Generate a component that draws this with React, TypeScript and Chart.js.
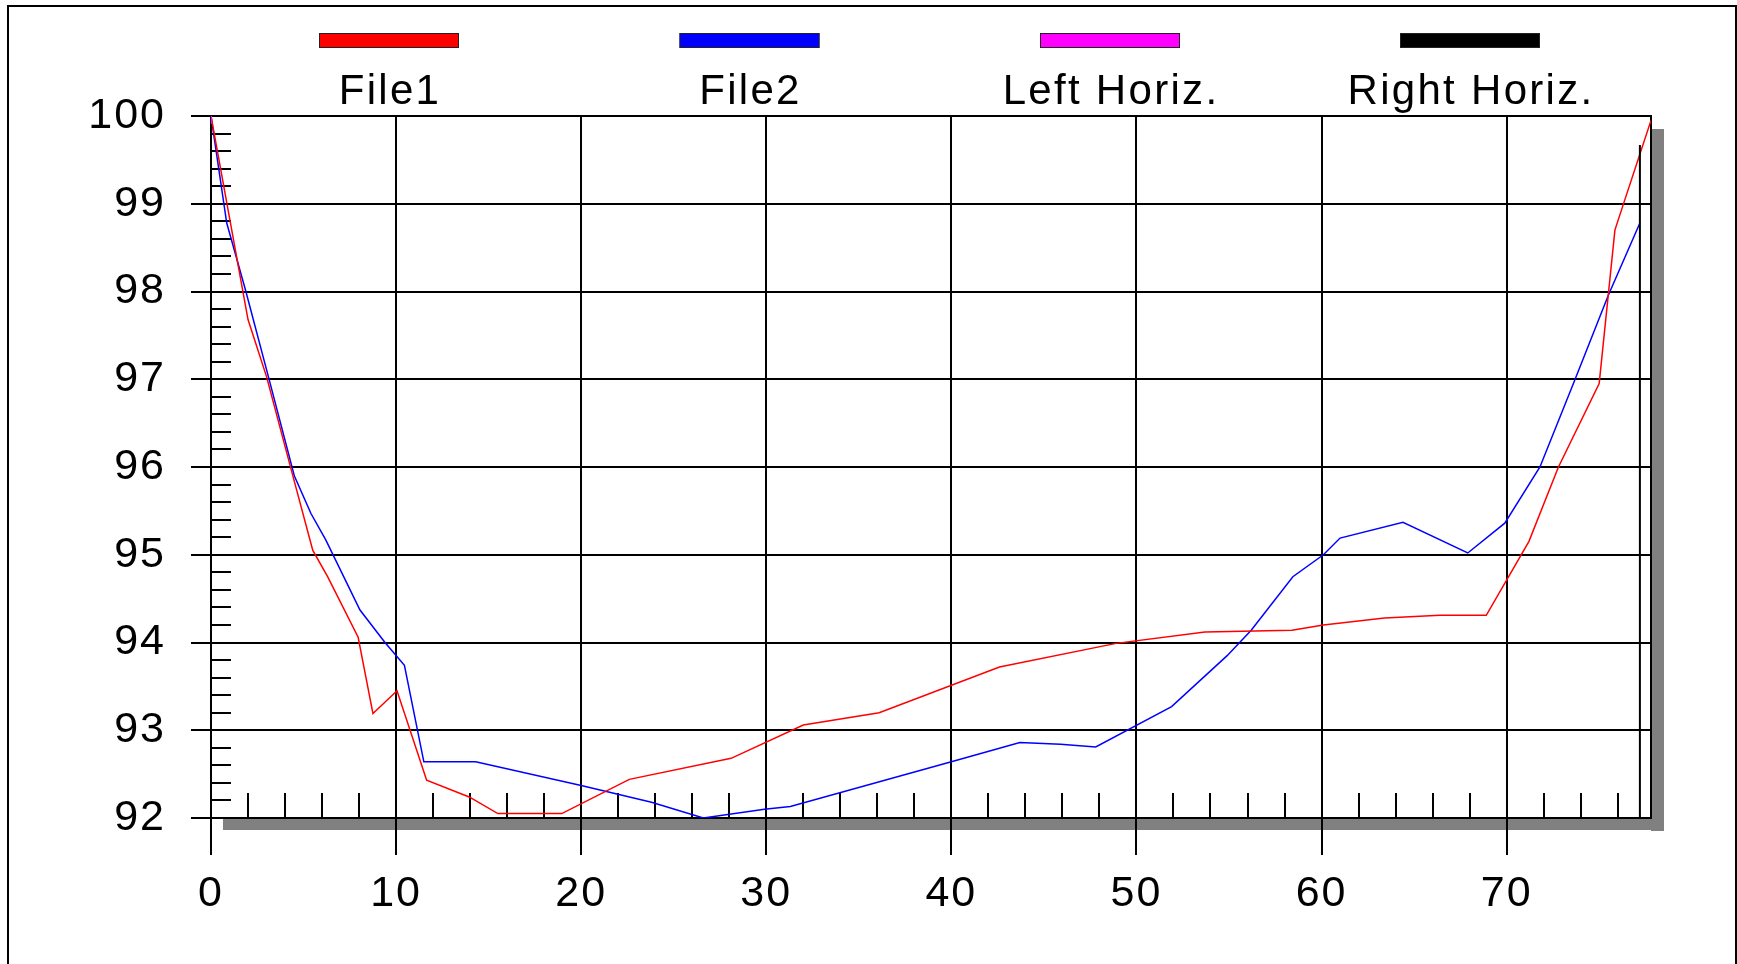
import React, { useEffect, useRef } from "react";
import { Chart, registerables } from "chart.js";

Chart.register(...registerables);

const W = 1737;
const H = 964;

// File1 (red)
const file1X = [0, 0.5, 2.0, 3.0, 4.65, 5.5, 6.3, 7.95, 8.75, 10.05, 11.65, 13.95, 15.5, 18.95, 22.6, 28.1, 32.0, 36.1, 42.6, 48.9, 53.7, 58.4, 60.1, 63.4, 66.4, 68.9, 71.2, 72.8, 75.0, 75.85, 76.3, 77.8];
const file1Y = [100, 99.42, 97.68, 97.03, 95.72, 95.05, 94.75, 94.06, 93.19, 93.45, 92.43, 92.24, 92.05, 92.05, 92.44, 92.68, 93.06, 93.2, 93.72, 93.99, 94.12, 94.14, 94.2, 94.28, 94.31, 94.31, 95.15, 96.0, 96.95, 98.7, 98.99, 99.95];

// File2 (blue)
const file2X = [0, 0.85, 1.86, 3.1, 4.5, 5.4, 6.2, 8.05, 9.4, 10.45, 11.5, 14.3, 20.0, 23.8, 26.6, 29.9, 31.3, 40.0, 43.7, 45.9, 47.8, 51.9, 54.9, 56.2, 58.45, 60.1, 61.0, 64.4, 67.9, 69.9, 71.8, 73.7, 75.5, 77.2];
const file2Y = [100, 98.78, 98.02, 97.03, 95.9, 95.47, 95.17, 94.37, 94.0, 93.74, 92.64, 92.64, 92.37, 92.18, 92.0, 92.1, 92.13, 92.64, 92.86, 92.84, 92.81, 93.27, 93.85, 94.14, 94.75, 95.0, 95.19, 95.37, 95.02, 95.36, 96.0, 97.0, 97.96, 98.78];

// Horizon markers
const leftHorizX = [0, 0];
const leftHorizY = [92, 100];
const rightHorizX = [77.2, 77.2];
const rightHorizY = [92, 99.67];

const legendLabels = ["File1", "File2", "Left Horiz.", "Right Horiz."];
const legendColors = ["#ff0000", "#0000ff", "#ff00ff", "#000000"];

const xMin = 0;
const xMax = 77.8;
const xStep = 10;
const xMinorStep = 2;
const yMin = 92;
const yMax = 100;
const yStep = 1;
const yMinorStep = 0.2;

const FONT = '"Liberation Sans", Arial, Helvetica, sans-serif';

const toPts = (xs: number[], ys: number[]) => xs.map((x, i) => ({ x, y: ys[i] }));

const decorPlugin = {
  id: "decor",
  beforeDraw(chart: any) {
    const ctx = chart.ctx;
    const { left, right, top, bottom } = chart.chartArea;
    // wider letter spacing for all canvas text (tick labels included)
    (ctx as any).letterSpacing = "2px";
    ctx.save();
    ctx.fillStyle = "#ffffff";
    ctx.fillRect(0, 0, W, H);
    // drop shadow
    ctx.fillStyle = "#808080";
    ctx.fillRect(right, top + 13, 13, bottom - top);
    ctx.fillRect(left + 12, bottom, right - left - 12 + 13, 12);
    ctx.restore();
  },
  beforeDatasetsDraw(chart: any) {
    const ctx = chart.ctx;
    const { left, right, top, bottom } = chart.chartArea;
    const xs = chart.scales.x;
    const ys = chart.scales.y;
    ctx.save();
    ctx.strokeStyle = "#000";
    ctx.lineWidth = 2;
    ctx.beginPath();
    // minor y ticks
    for (let k = 1; k < Math.round((yMax - yMin) / yMinorStep); k++) {
      if (k % 5 === 0) continue;
      const v = yMin + k * yMinorStep;
      const py = Math.round(ys.getPixelForValue(v));
      ctx.moveTo(left, py);
      ctx.lineTo(left + 20, py);
    }
    // minor x ticks
    for (let v = xMinorStep; v < xMax; v += xMinorStep) {
      if (Math.abs(v % xStep) < 1e-6) continue;
      const px = Math.round(xs.getPixelForValue(v));
      ctx.moveTo(px, bottom);
      ctx.lineTo(px, bottom - 25);
    }
    ctx.stroke();
    // right border
    ctx.beginPath();
    ctx.moveTo(right, top - 1);
    ctx.lineTo(right, bottom + 1);
    ctx.stroke();
    ctx.restore();
  },
  afterDatasetsDraw(chart: any) {
    const ctx = chart.ctx;
    const { left, top, bottom } = chart.chartArea;
    ctx.save();
    ctx.strokeStyle = "#000";
    ctx.lineWidth = 2;
    ctx.beginPath();
    ctx.moveTo(left, top + 8);
    ctx.lineTo(left, bottom);
    ctx.stroke();
    ctx.restore();
  },
  afterDraw(chart: any) {
    const ctx = chart.ctx;
    ctx.save();
    // outer frame
    ctx.strokeStyle = "#000";
    ctx.lineWidth = 2;
    ctx.beginPath();
    ctx.moveTo(8, H);
    ctx.lineTo(8, 6);
    ctx.lineTo(1736, 6);
    ctx.lineTo(1736, H);
    ctx.stroke();
    // legend
    const centers = [389, 749.5, 1110, 1470];
    ctx.font = `42px ${FONT}`;
    (ctx as any).letterSpacing = "2.3px";
    ctx.textAlign = "center";
    ctx.textBaseline = "alphabetic";
    legendLabels.forEach((lab, i) => {
      const cx = centers[i];
      ctx.fillStyle = legendColors[i];
      ctx.fillRect(cx - 70, 33, 140, 15);
      ctx.lineWidth = 1;
      ctx.strokeStyle = "#222";
      ctx.strokeRect(cx - 70 + 0.5, 33.5, 139, 14);
      ctx.fillStyle = "#000";
      ctx.fillText(lab, cx + 1, 104);
    });
    ctx.restore();
  },
};

export default function App() {
  const ref = useRef<HTMLCanvasElement | null>(null);
  useEffect(() => {
    if (!ref.current) return;
    const chart = new Chart(ref.current, {
      type: "scatter",
      data: {
        datasets: [
          {
            label: legendLabels[2],
            data: toPts(leftHorizX, leftHorizY),
            showLine: true,
            borderColor: legendColors[2],
            borderWidth: 2,
            pointRadius: 0,
          },
          {
            label: legendLabels[3],
            data: toPts(rightHorizX, rightHorizY),
            showLine: true,
            borderColor: legendColors[3],
            borderWidth: 2,
            pointRadius: 0,
          },
          {
            label: legendLabels[0],
            data: toPts(file1X, file1Y),
            showLine: true,
            borderColor: legendColors[0],
            borderWidth: 1.5,
            pointRadius: 0,
            tension: 0,
          },
          {
            label: legendLabels[1],
            data: toPts(file2X, file2Y),
            showLine: true,
            borderColor: legendColors[1],
            borderWidth: 1.5,
            pointRadius: 0,
            tension: 0,
          },
        ],
      },
      options: {
        animation: false,
        responsive: false,
        devicePixelRatio: 1,
        layout: { padding: { left: 0, right: W - 1651, top: 116, bottom: 0 } },
        plugins: { legend: { display: false }, tooltip: { enabled: false } },
        scales: {
          x: {
            type: "linear",
            min: xMin,
            max: xMax,
            ticks: {
              stepSize: xStep,
              includeBounds: false,
              color: "#000",
              font: { family: FONT, size: 43 },
              padding: 13,
              maxRotation: 0,
              autoSkip: false,
            },
            grid: { color: "#000", lineWidth: 2, tickLength: 37, tickColor: "#000", tickWidth: 2 },
            border: { display: true, color: "#000", width: 2 },
            afterFit: (s: any) => {
              s.height = H - 818;
            },
          },
          y: {
            type: "linear",
            min: yMin,
            max: yMax,
            ticks: {
              stepSize: yStep,
              color: "#000",
              font: { family: FONT, size: 43 },
              padding: 25,
            },
            grid: { color: "#000", lineWidth: 2, tickLength: 20, tickColor: "#000", tickWidth: 2 },
            border: { display: true, color: "#000", width: 2 },
            afterFit: (s: any) => {
              s.width = 211;
            },
          },
        },
      } as any,
      plugins: [decorPlugin],
    });
    return () => chart.destroy();
  }, []);
  return (
    <div style={{ position: "fixed", left: 0, top: 0, width: W, height: H, background: "#fff" }}>
      <canvas ref={ref} width={W} height={H} style={{ display: "block", width: W, height: H }} />
    </div>
  );
}
